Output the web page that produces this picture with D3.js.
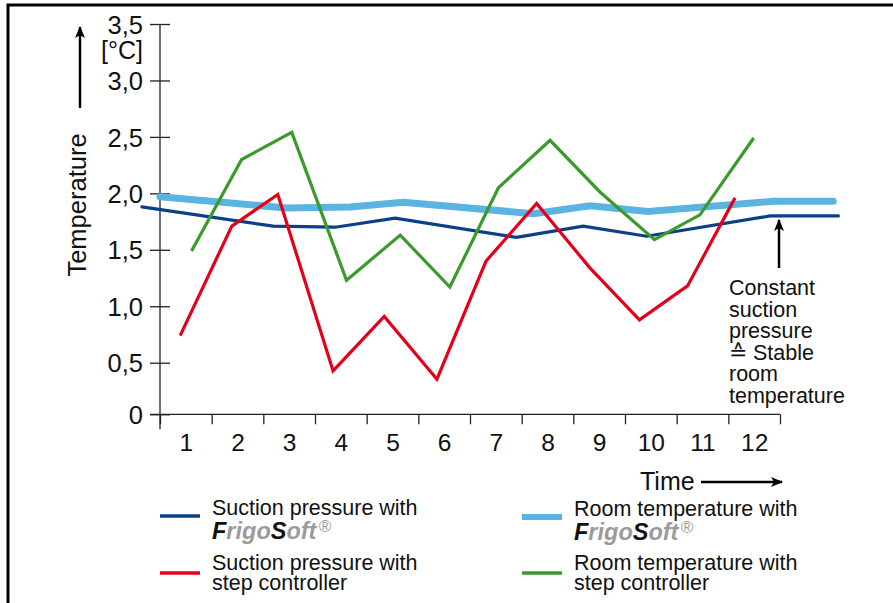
<!DOCTYPE html>
<html>
<head>
<meta charset="utf-8">
<script src="https://cdn.jsdelivr.net/npm/d3@7"></script>
<style>
  body { margin: 0; background: #fff; }
  svg text { font-family: "Liberation Sans", Arial, sans-serif; fill: #111; }
</style>
</head>
<body>
<div id="root"><svg width="893" height="603"></svg></div>
<script>
// values (time in intervals, temperature in °C)
const suctionFrigoT = [-0.35, 2.19, 3.39, 4.55, 6.90, 8.19, 9.42, 11.81, 13.13];
const suctionFrigoV = [1.88, 1.71, 1.70, 1.78, 1.61, 1.71, 1.62, 1.80, 1.80];
const roomFrigoT = [0, 2.45, 3.68, 4.71, 7.23, 8.32, 9.45, 11.87, 13.03];
const roomFrigoV = [1.97, 1.87, 1.88, 1.92, 1.82, 1.89, 1.84, 1.93, 1.93];
const suctionStepT = [0.39, 1.39, 2.28, 3.35, 4.34, 5.36, 6.31, 7.29, 8.32, 9.28, 10.21, 11.13];
const suctionStepV = [0.74, 1.71, 1.99, 0.42, 0.91, 0.34, 1.40, 1.91, 1.34, 0.88, 1.18, 1.96];
const roomStepT = [0.61, 1.58, 2.55, 3.61, 4.65, 5.61, 6.55, 7.55, 8.52, 9.57, 10.45, 11.49];
const roomStepV = [1.49, 2.30, 2.54, 1.23, 1.63, 1.17, 2.05, 2.47, 2.01, 1.59, 1.81, 2.49];

const yTicks = [0, 0.5, 1, 1.5, 2, 2.5, 3, 3.5];
const yTickLabels = ['0', '0,5', '1,0', '1,5', '2,0', '2,5', '3,0', '3,5'];
const xLabels = ['1', '2', '3', '4', '5', '6', '7', '8', '9', '10', '11', '12'];
const noteLines = ['Constant', 'suction', 'pressure', '\u2259 Stable', 'room', 'temperature'];

const colDarkBlue = '#0b3f86';
const colLightBlue = '#5bb3e2';
const colRed = '#e2001a';
const colGreen = '#3a9a2c';

function drawChart() {
  const svg = d3.select('#root svg');

  const xScale = d3.scaleLinear().domain([0, 12]).range([160, 780]);
  // the original axis is slightly squeezed between 0 and 0,5
  const yScale = d3.scaleLinear().domain([0, 0.5, 3.5]).range([414.3, 362.7, 24]);

  // frame (runs off the right and bottom edge)
  svg.append('rect')
    .attr('x', 8).attr('y', 5)
    .attr('width', 950).attr('height', 700)
    .attr('fill', 'none').attr('stroke', '#000').attr('stroke-width', 3);

  // y axis
  const yAxis = d3.axisLeft(yScale)
    .tickValues(yTicks)
    .tickFormat((d, i) => yTickLabels[i])
    .tickSize(10)
    .tickPadding(6);
  const yG = svg.append('g')
    .attr('transform', 'translate(160 0)')
    .call(yAxis);
  yG.select('.domain').remove();
  yG.selectAll('.tick line').attr('x1', 10).attr('stroke', '#222').attr('stroke-width', 1.3);
  yG.selectAll('.tick text')
    .attr('x', -17)
    .attr('dy', '0.36em')
    .attr('font-size', 25.5)
    .attr('font-family', '"Liberation Sans", Arial, sans-serif')
    .attr('fill', '#111');
  svg.append('line')
    .attr('x1', 160).attr('x2', 160)
    .attr('y1', yScale(3.5)).attr('y2', yScale(0) + 15)
    .attr('stroke', '#222').attr('stroke-width', 1.3);

  // x axis: ticks on the interval borders, labels in between
  const xAxis = d3.axisBottom(xScale)
    .tickValues(d3.range(0, 13))
    .tickFormat('')
    .tickSize(10)
    .tickSizeOuter(0);
  const xG = svg.append('g')
    .attr('transform', `translate(0 ${yScale(0)})`)
    .call(xAxis);
  xG.select('.domain').remove();
  xG.selectAll('.tick line').attr('stroke', '#222').attr('stroke-width', 1.3);
  svg.append('line')
    .attr('x1', 150).attr('x2', xScale(12))
    .attr('y1', yScale(0)).attr('y2', yScale(0))
    .attr('stroke', '#222').attr('stroke-width', 1.3);

  const xLabelAxis = d3.axisBottom(xScale)
    .tickValues(d3.range(0.5, 12, 1))
    .tickFormat((d, i) => xLabels[i])
    .tickSize(0)
    .tickPadding(19);
  const xlG = svg.append('g')
    .attr('transform', `translate(0 ${yScale(0)})`)
    .call(xLabelAxis);
  xlG.select('.domain').remove();
  xlG.selectAll('.tick text')
    .attr('font-size', 24.5)
    .attr('font-family', '"Liberation Sans", Arial, sans-serif')
    .attr('fill', '#111');

  // arrow marker
  svg.append('defs').append('marker')
    .attr('id', 'arrow')
    .attr('viewBox', '0 0 12 10')
    .attr('refX', 11).attr('refY', 5)
    .attr('markerWidth', 12).attr('markerHeight', 10)
    .attr('markerUnits', 'userSpaceOnUse')
    .attr('orient', 'auto')
    .append('path')
    .attr('d', 'M0,0 L12,5 L0,10 L3,5 Z')
    .attr('fill', '#000');

  // y axis title
  svg.append('text')
    .attr('transform', 'translate(86 205) rotate(-90)')
    .attr('text-anchor', 'middle')
    .attr('font-size', 25.5)
    .text('Temperature');
  svg.append('line')
    .attr('x1', 80).attr('x2', 80).attr('y1', 108).attr('y2', 27)
    .attr('stroke', '#000').attr('stroke-width', 2.5)
    .attr('marker-end', 'url(#arrow)');
  svg.append('text')
    .attr('x', 143).attr('y', 59)
    .attr('text-anchor', 'end')
    .attr('font-size', 25)
    .text('[°C]');

  // x axis title
  svg.append('text')
    .attr('x', 640).attr('y', 490)
    .attr('font-size', 25)
    .text('Time');
  svg.append('line')
    .attr('x1', 701).attr('x2', 782).attr('y1', 482).attr('y2', 482)
    .attr('stroke', '#000').attr('stroke-width', 2.5)
    .attr('marker-end', 'url(#arrow)');

  // series
  const series = [
    { t: roomFrigoT, v: roomFrigoV, color: colLightBlue, width: 7, cap: 'round' },
    { t: suctionFrigoT, v: suctionFrigoV, color: colDarkBlue, width: 3.2, cap: 'round' },
    { t: suctionStepT, v: suctionStepV, color: colRed, width: 3.2, cap: 'butt' },
    { t: roomStepT, v: roomStepV, color: colGreen, width: 3.2, cap: 'butt' }
  ];
  const line = d3.line()
    .x((d) => xScale(d[0]))
    .y((d) => yScale(d[1]));
  svg.selectAll('path.series')
    .data(series)
    .enter()
    .append('path')
    .attr('class', 'series')
    .attr('d', (s) => line(d3.zip(s.t, s.v)))
    .attr('fill', 'none')
    .attr('stroke', (s) => s.color)
    .attr('stroke-width', (s) => s.width)
    .attr('stroke-linecap', (s) => s.cap)
    .attr('stroke-linejoin', 'miter');

  // annotation
  const noteX = xScale(12) - 1;
  svg.append('line')
    .attr('x1', noteX).attr('x2', noteX)
    .attr('y1', 268).attr('y2', yScale(1.80) + 4)
    .attr('stroke', '#000').attr('stroke-width', 2.5)
    .attr('marker-end', 'url(#arrow)');
  svg.append('g')
    .selectAll('text')
    .data(noteLines)
    .enter()
    .append('text')
    .attr('x', 729)
    .attr('y', (d, i) => 295 + i * 21.6)
    .attr('font-size', 21.5)
    .text((d) => d);

  // legend
  const legend = [
    { x: 160, y: 516, color: colDarkBlue, width: 3.5, first: 'Suction pressure with', second: null },
    { x: 160, y: 573, color: colRed, width: 3.5, first: 'Suction pressure with', second: 'step controller' },
    { x: 522, y: 517, color: colLightBlue, width: 6, first: 'Room temperature with', second: null },
    { x: 522, y: 573, color: colGreen, width: 3.5, first: 'Room temperature with', second: 'step controller' }
  ];
  legend.forEach((d) => {
    const g = svg.append('g');
    g.append('line')
      .attr('x1', d.x).attr('x2', d.x + 40)
      .attr('y1', d.y).attr('y2', d.y)
      .attr('stroke', d.color).attr('stroke-width', d.width);
    const tx = d.x + 52;
    g.append('text')
      .attr('x', tx).attr('y', d.second ? d.y - 3 : d.y - 1)
      .attr('font-size', 21.5)
      .text(d.first);
    if (d.second) {
      g.append('text')
        .attr('x', tx).attr('y', d.y + 17)
        .attr('font-size', 21.5)
        .text(d.second);
    } else {
      const brand = g.append('text')
        .attr('x', tx).attr('y', d.y + 23)
        .attr('font-size', 23.5)
        .attr('font-weight', 'bold')
        .attr('font-style', 'italic');
      brand.append('tspan').attr('fill', '#111').text('F');
      brand.append('tspan').attr('fill', '#9b9b9b').text('rigo');
      brand.append('tspan').attr('fill', '#111').text('S');
      brand.append('tspan').attr('fill', '#9b9b9b').text('oft');
      brand.append('tspan')
        .attr('fill', '#9b9b9b')
        .attr('font-weight', 'normal')
        .attr('font-size', 17)
        .attr('dx', 2)
        .attr('dy', -7)
        .text('\u00ae');
    }
  });
}

window.addEventListener('load', function() {
  drawChart();
});
</script>
</body>
</html>
